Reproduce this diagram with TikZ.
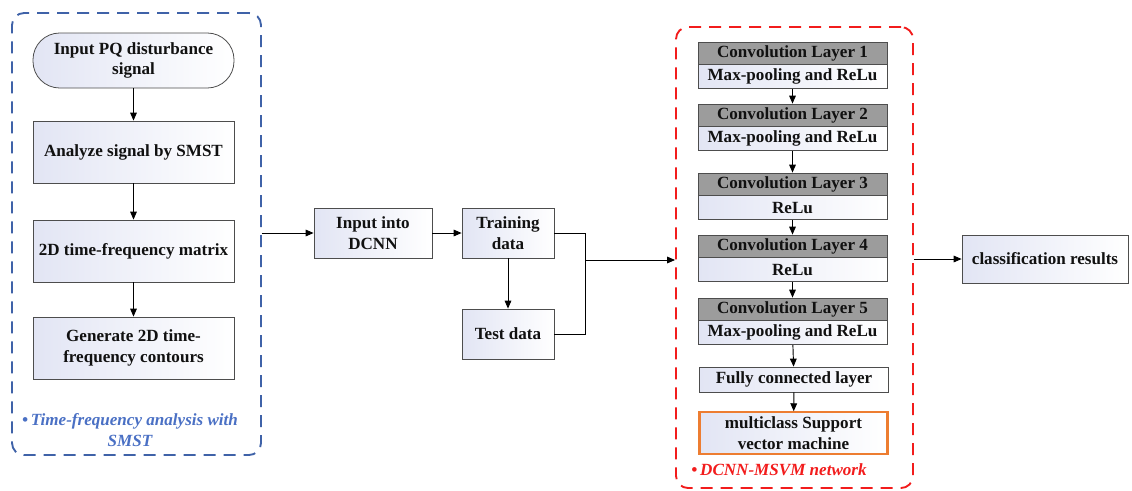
\documentclass[tikz,border=0pt]{standalone}
\usepackage{fontspec}
\setmainfont{Liberation Serif}
\usetikzlibrary{arrows.meta,positioning,shadings}
\definecolor{ink}{HTML}{111111}
\definecolor{edge}{HTML}{4D4D4D}
\definecolor{tint}{HTML}{E2E5F4}
\definecolor{header}{HTML}{9C9C9C}
\definecolor{groupblue}{HTML}{3F62A8}
\definecolor{labelblue}{HTML}{4A70C4}
\definecolor{groupred}{HTML}{F21C1C}
\definecolor{svmorange}{HTML}{ED7D31}

\begin{document}
\begin{tikzpicture}[x=0.75pt,y=-0.75pt,
  every node/.style={font=\fontsize{12.8}{15.5}\selectfont\bfseries,text=ink},
  step box/.style={draw=edge,line width=.6pt,left color=tint,right color=white,
    minimum width=150.75pt,minimum height=46.5pt,align=center,inner sep=2pt},
  start box/.style={step box,rounded corners=20pt,minimum height=41.25pt},
  data box/.style={step box,minimum width=69pt,minimum height=37.5pt},
  layer head/.style={draw=edge,line width=.6pt,fill=header,
    minimum width=141.75pt,minimum height=16.5pt,inner sep=1pt},
  layer body/.style={draw=edge,line width=.6pt,left color=tint,right color=white,
    minimum width=141.75pt,minimum height=18pt,inner sep=1pt},
  group/.style={draw,dashed,dash pattern=on 9pt off 6pt,line width=1.4pt,rounded corners=9pt},
  grouplabel/.style={font=\fontsize{12.8}{15.5}\selectfont\bfseries\itshape,align=center},
  flow/.style={draw=black,line width=.7pt,-{Triangle[length=6pt,width=5pt]}},
  joint/.style={draw=black,line width=.7pt}
]
\useasboundingbox (0,0) rectangle (1132,490);

\node[group,draw=groupblue,minimum width=186.75pt,minimum height=331.5pt] (tfa) at (136.5,234) {};
\node[group,draw=groupred,minimum width=177.75pt,minimum height=345.75pt] (net) at (794.5,257.5) {};

\node[start box] (signal) at (133.5,60.5) {Input PQ disturbance\\signal};
\node[step box] (smst) at (133.5,152) {Analyze signal by SMST};
\node[step box] (matrix) at (133.5,251) {2D time-frequency matrix};
\node[step box] (contour) at (133.5,348) {Generate 2D time-\\frequency contours};
\node[grouplabel,text=labelblue] (tfalabel) at (130,430)
  {\textbullet\,Time-frequency analysis with\\SMST};

\node[step box,minimum width=88.5pt,minimum height=37.5pt] (dcnn) at (373,233) {Input into\\DCNN};
\node[data box] (train) at (508,233) {Training\\data};
\node[data box] (test) at (508,334) {Test data};
\coordinate (merge) at (585,260);

\node[layer head] (conv1) at (792.5,53) {Convolution Layer 1};
\node[layer body,below=0pt of conv1] (act1) {Max-pooling and ReLu};
\node[layer head] (conv2) at (792.5,115) {Convolution Layer 2};
\node[layer body,below=0pt of conv2] (act2) {Max-pooling and ReLu};
\node[layer head] (conv3) at (792.5,184) {Convolution Layer 3};
\node[layer body,below=0pt of conv3] (act3) {ReLu};
\node[layer head] (conv4) at (792.5,246) {Convolution Layer 4};
\node[layer body,below=0pt of conv4] (act4) {ReLu};
\node[layer head] (conv5) at (792.5,309) {Convolution Layer 5};
\node[layer body,below=0pt of conv5] (act5) {Max-pooling and ReLu};
\node[layer body,minimum height=18.75pt] (fc) at (794,379.5) {Fully connected layer};
\node[step box,draw=svmorange,line width=1.6pt,minimum width=141pt,minimum height=31pt]
  (svm) at (793.5,433) {multiclass Support\\vector machine};
\node[grouplabel,text=groupred] (netlabel) at (779,470) {\textbullet\,DCNN-MSVM network};

\node[step box,minimum width=124.5pt,minimum height=36pt] (result) at (1045,259) {classification results};

\draw[flow] (signal) -- (smst);
\draw[flow] (smst) -- (matrix);
\draw[flow] (matrix) -- (contour);
\draw[flow] (tfa.east |- dcnn) -- (dcnn);
\draw[flow] (dcnn) -- (train);
\draw[flow] (train) -- (test);
\draw[joint] (train.east) -| (merge);
\draw[joint] (test.east) -| (merge);
\draw[flow] (merge) -- (merge -| net.west);
\draw[flow] (act1) -- (conv2);
\draw[flow] (act2) -- (conv3);
\draw[flow] (act3) -- (conv4);
\draw[flow] (act4) -- (conv5);
\draw[flow] (act5) -- (fc);
\draw[flow] (fc) -- (svm);
\draw[flow] (net.east |- result) -- (result);
\end{tikzpicture}
\end{document}
